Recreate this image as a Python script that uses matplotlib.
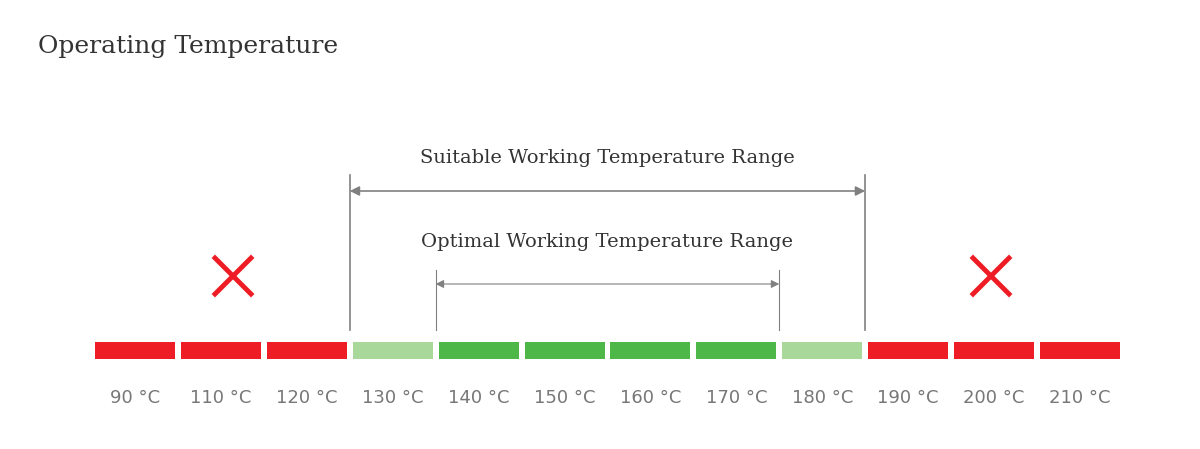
import matplotlib
matplotlib.use("Agg")
import matplotlib.pyplot as plt

temps = [90, 110, 120, 130, 140, 150, 160, 170, 180, 190, 200, 210]
status = ["bad", "bad", "bad", "ok", "best", "best", "best", "best", "ok", "bad", "bad", "bad"]
colors = {"bad": "#EE1D25", "ok": "#A9D89B", "best": "#4DB848"}
suitable_range = (3, 9)   # bar index boundaries
optimal_range = (4, 8)

fig = plt.figure(figsize=(12, 4.49), dpi=100)
ax = fig.add_axes([0, 0, 1, 1])
ax.set_xlim(0, 1200)
ax.set_ylim(449, 0)
ax.axis("off")

x0, step, w = 95, 85.9, 80
for i, (t, s) in enumerate(zip(temps, status)):
    x = x0 + i * step
    ax.add_patch(plt.Rectangle((x, 342), w, 17, color=colors[s], lw=0))
    ax.text(x + w / 2, 398, f"{t}\u2009°C".replace("\u2009", " "), ha="center", va="center",
            fontsize=13, color="#777777", family="DejaVu Sans")

def edge(i):
    return x0 + i * step - (step - w) / 2

gray = "#808080"
sx1, sx2 = edge(suitable_range[0]), edge(suitable_range[1])
ox1, ox2 = edge(optimal_range[0]), edge(optimal_range[1])
for x in (sx1, sx2):
    ax.plot([x, x], [175, 330], color=gray, lw=1.2)
for x in (ox1, ox2):
    ax.plot([x, x], [270, 330], color=gray, lw=0.8)
ax.annotate("", xy=(sx1, 191), xytext=(sx2, 191),
            arrowprops=dict(arrowstyle="<|-|>", color=gray, lw=1.2, mutation_scale=14, shrinkA=0, shrinkB=0))
ax.annotate("", xy=(ox1, 284), xytext=(ox2, 284),
            arrowprops=dict(arrowstyle="<|-|>", color=gray, lw=0.8, mutation_scale=12, shrinkA=0, shrinkB=0))
ax.text((sx1 + sx2) / 2, 158, "Suitable Working Temperature Range", ha="center", va="center",
        fontsize=14, color="#333333", family="DejaVu Serif")
ax.text((ox1 + ox2) / 2, 242, "Optimal Working Temperature Range", ha="center", va="center",
        fontsize=14, color="#333333", family="DejaVu Serif")

for cx in (233, 991):
    ax.plot([cx - 18, cx + 18], [258, 294], color="#EE1D25", lw=3.5)
    ax.plot([cx - 18, cx + 18], [294, 258], color="#EE1D25", lw=3.5)

ax.text(38, 46, "Operating Temperature", ha="left", va="center", fontsize=18,
        color="#333333", family="DejaVu Serif")

fig.savefig("out.png", dpi=100)
